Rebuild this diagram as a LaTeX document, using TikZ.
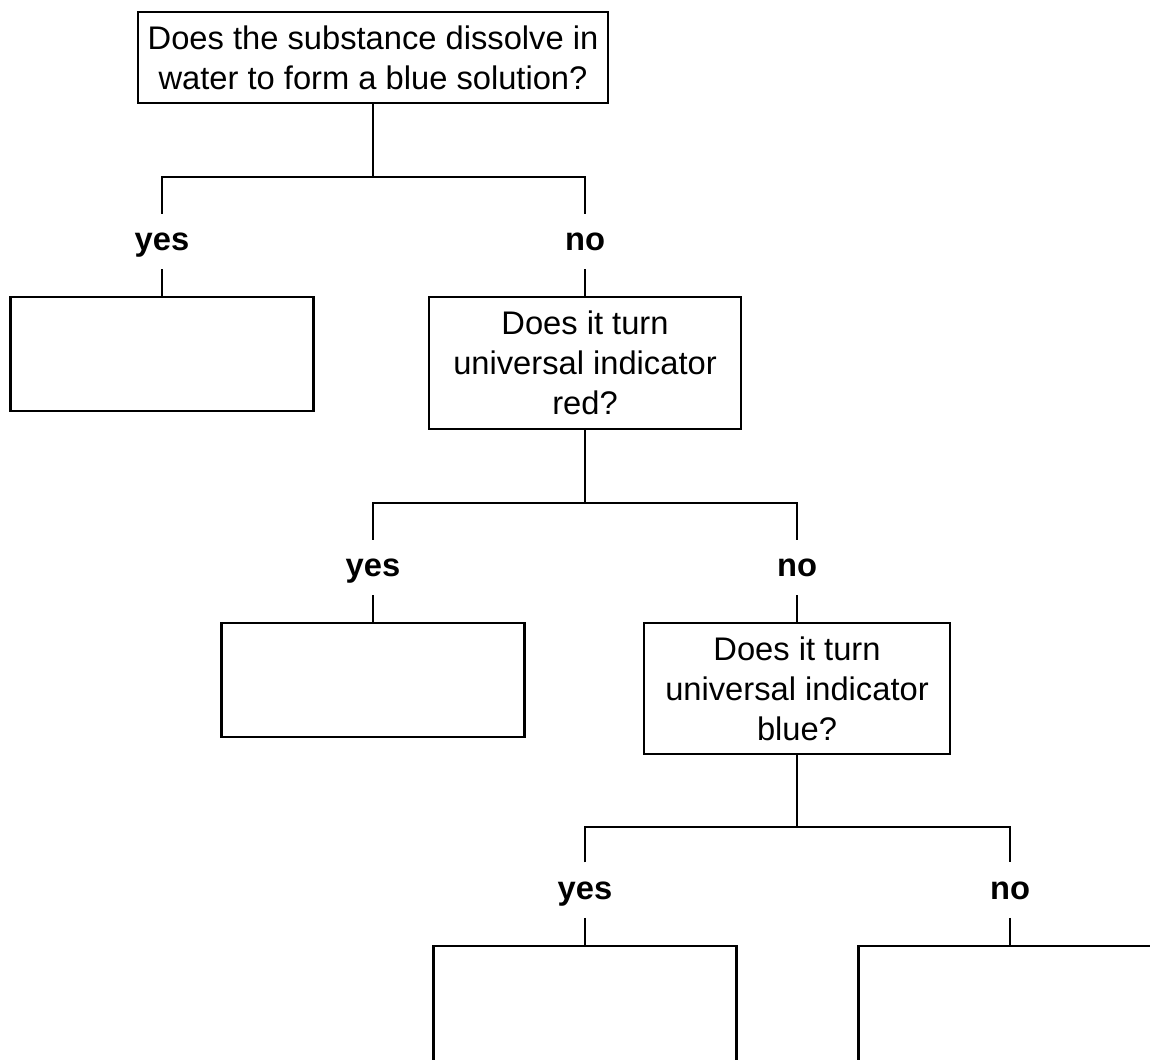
\documentclass[tikz,border=0pt]{standalone}
\usepackage{fontspec}
\setmainfont{Liberation Sans}

\begin{document}
\begin{tikzpicture}[
 line width=0.7pt,
 font=\fontsize{9.3}{11.4}\selectfont,
 qbox/.style={draw,align=center,inner sep=0pt},
 leaf/.style={draw,minimum width=3.03cm,minimum height=1.14cm},
 ans/.style={font=\fontsize{9.3}{11.4}\selectfont\bfseries,inner sep=0pt,minimum height=0.53cm,text height=1ex,text depth=0pt}
]
 \useasboundingbox (0,0) rectangle (11.5,-10.59); %図の大きさ
 \clip (0,0) rectangle (11.5,-10.59);

 % 質問の箱
 \node[qbox,minimum width=4.70cm,minimum height=0.91cm] (q1) at (3.73,-0.575) {Does the substance dissolve in\\water to form a blue solution?};
 \node[qbox,minimum width=3.12cm,minimum height=1.32cm] (q2) at (5.85,-3.63) {Does it turn\\universal indicator\\red?};
 \node[qbox,minimum width=3.06cm,minimum height=1.31cm] (q3) at (7.97,-6.885) {Does it turn\\universal indicator\\blue?};

 % 答えの箱
 \node[leaf] (leaf1) at (1.62,-3.54) {};
 \node[leaf] (leaf2) at (3.73,-6.80) {};
 \node[leaf,minimum height=1.4cm] (leaf3) at (5.85,-10.16) {};
 \node[leaf,minimum height=1.4cm] (leaf4) at (10.10,-10.16) {};

 % yes / no
 \node[ans] (y1) at (1.62,-2.415) {yes};
 \node[ans] (n1) at (5.85,-2.415) {no};
 \node[ans] (y2) at (3.73,-5.675) {yes};
 \node[ans] (n2) at (7.97,-5.675) {no};
 \node[ans] (y3) at (5.85,-8.90) {yes};
 \node[ans] (n3) at (10.10,-8.90) {no};

 % 分かれ目
 \coordinate (b1) at (q1.south |- 0,-1.77);
 \coordinate (b2) at (q2.south |- 0,-5.03);
 \coordinate (b3) at (q3.south |- 0,-8.27);

 \draw (q1.south) -- (b1);
 \draw (y1.north) |- (b1) -| (n1.north);
 \draw (y1.south) -- (leaf1.north);
 \draw (n1.south) -- (q2.north);

 \draw (q2.south) -- (b2);
 \draw (y2.north) |- (b2) -| (n2.north);
 \draw (y2.south) -- (leaf2.north);
 \draw (n2.south) -- (q3.north);

 \draw (q3.south) -- (b3);
 \draw (y3.north) |- (b3) -| (n3.north);
 \draw (y3.south) -- (leaf3.north);
 \draw (n3.south) -- (leaf4.north);
\end{tikzpicture}
\end{document}
